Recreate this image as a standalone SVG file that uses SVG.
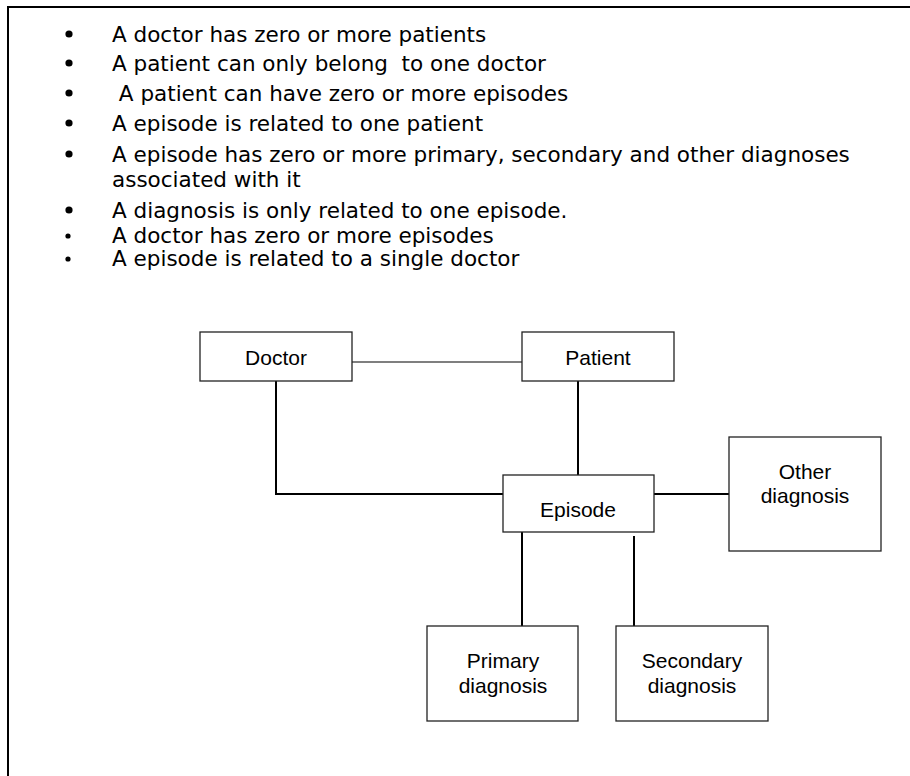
<svg xmlns="http://www.w3.org/2000/svg" width="910" height="776" viewBox="0 0 910 776">
  <style>
    .frame { fill: none; stroke: #000; stroke-width: 2; }
    .rule { font-family: "DejaVu Sans", Verdana, sans-serif; font-size: 21.5px; fill: #000; white-space: pre; }
    .dot { fill: #000; }
    .box { fill: #fff; stroke: #222; stroke-width: 1.3; }
    .label { font-family: "Liberation Sans", Arial, sans-serif; font-size: 21px; fill: #000; text-anchor: middle; }
    .link { fill: none; stroke: #000; stroke-width: 2; }
    .link-thin { fill: none; stroke: #555; stroke-width: 1.3; }
  </style>

  <rect width="910" height="776" fill="#fff"/>
  <!-- page frame: left and top edges only show -->
  <path class="frame" d="M8,776 V7 H910"/>

  <!-- business rules -->
  <g id="rules">
    <circle class="dot" cx="69" cy="34" r="3.6"/>
    <text class="rule" x="112" y="42">A doctor has zero or more patients</text>
    <circle class="dot" cx="69" cy="63" r="3.6"/>
    <text class="rule" x="112" y="71">A patient can only belong  to one doctor</text>
    <circle class="dot" cx="69" cy="93" r="3.6"/>
    <text class="rule" x="112" y="101"> A patient can have zero or more episodes</text>
    <circle class="dot" cx="69" cy="123" r="3.6"/>
    <text class="rule" x="112" y="131">A episode is related to one patient</text>
    <circle class="dot" cx="69" cy="154" r="3.6"/>
    <text class="rule" x="112" y="162">A episode has zero or more primary, secondary and other diagnoses</text>
    <text class="rule" x="112" y="187">associated with it</text>
    <circle class="dot" cx="69" cy="210" r="3.6"/>
    <text class="rule" x="112" y="218">A diagnosis is only related to one episode.</text>
    <circle class="dot" cx="68" cy="236" r="2.6"/>
    <text class="rule" x="112" y="243">A doctor has zero or more episodes</text>
    <circle class="dot" cx="68" cy="259" r="2.6"/>
    <text class="rule" x="112" y="266">A episode is related to a single doctor</text>
  </g>

  <!-- relationships -->
  <g id="connectors">
    <line class="link-thin" x1="352" y1="362" x2="522" y2="362"/>
    <line class="link" x1="578" y1="381" x2="578" y2="475"/>
    <polyline class="link" points="276,381 276,494 503,494"/>
    <line class="link" x1="654" y1="494" x2="729" y2="494"/>
    <line class="link" x1="522" y1="532" x2="522" y2="626"/>
    <line class="link" x1="634" y1="536" x2="634" y2="626"/>
  </g>

  <g id="doctor">
    <rect class="box" x="200" y="332" width="152" height="49"/>
    <text class="label" x="276" y="365">Doctor</text>
  </g>

  <g id="patient">
    <rect class="box" x="522" y="332" width="152" height="49"/>
    <text class="label" x="598" y="365">Patient</text>
  </g>

  <g id="episode">
    <rect class="box" x="503" y="475" width="151" height="57"/>
    <text class="label" x="578" y="517">Episode</text>
  </g>

  <g id="other-diagnosis">
    <rect class="box" x="729" y="437" width="152" height="114"/>
    <text class="label" x="805" y="479">Other</text>
    <text class="label" x="805" y="503">diagnosis</text>
  </g>

  <g id="primary-diagnosis">
    <rect class="box" x="427" y="626" width="151" height="95"/>
    <text class="label" x="503" y="668">Primary</text>
    <text class="label" x="503" y="693">diagnosis</text>
  </g>

  <g id="secondary-diagnosis">
    <rect class="box" x="616" y="626" width="152" height="95"/>
    <text class="label" x="692" y="668">Secondary</text>
    <text class="label" x="692" y="693">diagnosis</text>
  </g>
</svg>
